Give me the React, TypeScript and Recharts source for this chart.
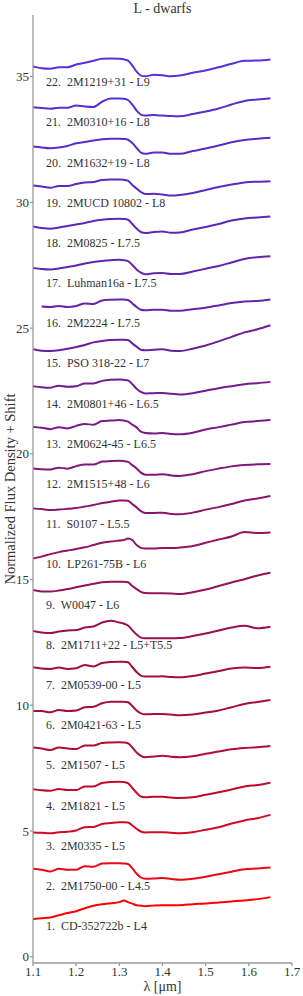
import { ComposedChart, Line, XAxis, YAxis, ReferenceDot } from "recharts";

// wavelength grid (micron), shared by every spectrum
const wavelengths = [1.10, 1.12, 1.14, 1.16, 1.18, 1.20, 1.22, 1.24, 1.26, 1.28, 1.30, 1.31, 1.32, 1.33, 1.34, 1.35, 1.36, 1.38, 1.40, 1.42, 1.44, 1.47, 1.50, 1.53, 1.56, 1.59, 1.62, 1.65];

// normalized flux + shift, one array per object (bottom to top)
const s1 = [1.50, 1.53, 1.56, 1.65, 1.74, 1.81, 1.93, 2.03, 2.09, 2.13, 2.17, 2.24, 2.17, 2.11, 2.05, 2.03, 2.01, 2.04, 2.05, 2.05, 2.05, 2.09, 2.12, 2.16, 2.20, 2.24, 2.29, 2.37];
const s2 = [3.50, 3.46, 3.39, 3.50, 3.46, 3.46, 3.60, 3.58, 3.71, 3.72, 3.72, 3.71, 3.69, 3.52, 3.30, 3.15, 3.10, 3.11, 3.13, 3.09, 3.06, 3.10, 3.18, 3.28, 3.38, 3.48, 3.51, 3.55];
const s3 = [4.94, 4.93, 4.91, 4.95, 4.97, 5.02, 5.15, 5.16, 5.28, 5.32, 5.35, 5.35, 5.34, 5.22, 5.09, 4.98, 4.94, 4.95, 4.95, 4.93, 4.91, 4.95, 5.05, 5.15, 5.30, 5.42, 5.51, 5.64];
const s4 = [6.66, 6.62, 6.60, 6.67, 6.63, 6.63, 6.77, 6.77, 6.91, 6.95, 6.96, 6.95, 6.90, 6.71, 6.52, 6.37, 6.34, 6.36, 6.36, 6.33, 6.31, 6.34, 6.44, 6.54, 6.65, 6.77, 6.83, 6.92];
const s5 = [8.32, 8.28, 8.22, 8.32, 8.28, 8.26, 8.40, 8.40, 8.50, 8.52, 8.53, 8.52, 8.49, 8.32, 8.12, 7.99, 7.93, 7.96, 7.99, 7.95, 7.93, 7.97, 8.07, 8.16, 8.25, 8.30, 8.33, 8.38];
const s6 = [9.77, 9.77, 9.72, 9.81, 9.77, 9.79, 9.92, 9.94, 10.08, 10.14, 10.14, 10.14, 10.12, 9.97, 9.79, 9.68, 9.64, 9.65, 9.65, 9.63, 9.60, 9.63, 9.71, 9.79, 9.92, 10.05, 10.13, 10.21];
const s7 = [11.51, 11.46, 11.44, 11.50, 11.44, 11.47, 11.60, 11.54, 11.68, 11.72, 11.73, 11.73, 11.71, 11.52, 11.32, 11.18, 11.14, 11.14, 11.15, 11.12, 11.11, 11.16, 11.26, 11.36, 11.46, 11.50, 11.48, 11.53];
const s8 = [12.95, 12.89, 12.87, 12.93, 12.97, 12.99, 13.09, 13.13, 13.29, 13.36, 13.29, 13.25, 13.17, 12.99, 12.81, 12.69, 12.66, 12.66, 12.66, 12.66, 12.67, 12.75, 12.85, 12.97, 13.09, 13.16, 13.06, 13.12];
const s9 = [14.58, 14.52, 14.52, 14.56, 14.62, 14.69, 14.76, 14.83, 14.89, 14.91, 14.91, 14.91, 14.89, 14.74, 14.62, 14.51, 14.46, 14.45, 14.45, 14.44, 14.42, 14.49, 14.60, 14.74, 14.88, 15.01, 15.16, 15.27];
const s10 = [15.84, 15.91, 16.01, 16.09, 16.15, 16.21, 16.28, 16.37, 16.46, 16.51, 16.55, 16.57, 16.63, 16.57, 16.37, 16.26, 16.23, 16.23, 16.25, 16.25, 16.27, 16.33, 16.46, 16.59, 16.71, 16.89, 16.85, 16.87];
const s11 = [17.83, 17.80, 17.76, 17.78, 17.81, 17.84, 17.90, 17.96, 18.04, 18.09, 18.14, 18.14, 18.13, 18.00, 17.87, 17.72, 17.65, 17.65, 17.66, 17.61, 17.60, 17.66, 17.78, 17.88, 18.00, 18.14, 18.22, 18.32];
const s12 = [19.42, 19.39, 19.38, 19.45, 19.41, 19.51, 19.57, 19.57, 19.69, 19.71, 19.72, 19.71, 19.68, 19.55, 19.42, 19.25, 19.17, 19.17, 19.19, 19.14, 19.12, 19.19, 19.31, 19.41, 19.50, 19.55, 19.58, 19.59];
const s13 = [21.07, 21.04, 20.98, 21.06, 21.01, 21.11, 21.18, 21.16, 21.30, 21.32, 21.34, 21.32, 21.28, 21.16, 21.05, 20.88, 20.83, 20.81, 20.83, 20.79, 20.78, 20.84, 20.97, 21.06, 21.16, 21.26, 21.30, 21.34];
const s14 = [22.69, 22.65, 22.63, 22.71, 22.67, 22.69, 22.80, 22.80, 22.90, 22.94, 22.95, 22.94, 22.92, 22.77, 22.59, 22.46, 22.40, 22.41, 22.42, 22.39, 22.36, 22.41, 22.51, 22.61, 22.69, 22.77, 22.81, 22.86];
const s15 = [24.16, 24.10, 24.09, 24.12, 24.18, 24.25, 24.33, 24.43, 24.49, 24.53, 24.54, 24.54, 24.53, 24.39, 24.26, 24.14, 24.12, 24.14, 24.16, 24.10, 24.09, 24.18, 24.31, 24.47, 24.65, 24.83, 24.95, 25.11];
const s16 = [null, 25.86, 25.84, 25.88, 25.84, 25.88, 25.98, 25.96, 26.10, 26.13, 26.14, 26.14, 26.12, 25.98, 25.84, 25.73, 25.71, 25.73, 25.73, 25.69, 25.69, 25.75, 25.81, 25.90, 26.00, 26.06, 26.08, 26.14];
const s17 = [27.39, 27.35, 27.33, 27.37, 27.43, 27.49, 27.57, 27.63, 27.67, 27.70, 27.72, 27.70, 27.66, 27.51, 27.33, 27.20, 27.14, 27.18, 27.19, 27.15, 27.15, 27.25, 27.36, 27.47, 27.61, 27.75, 27.82, 27.86];
const s18 = [29.04, 28.98, 28.95, 29.00, 29.06, 29.12, 29.18, 29.26, 29.31, 29.34, 29.35, 29.34, 29.31, 29.14, 28.96, 28.82, 28.78, 28.82, 28.84, 28.79, 28.80, 28.92, 29.02, 29.14, 29.28, 29.36, 29.40, 29.44];
const s19 = [30.67, 30.63, 30.58, 30.65, 30.65, 30.73, 30.79, 30.81, 30.89, 30.91, 30.91, 30.90, 30.86, 30.69, 30.55, 30.41, 30.33, 30.34, 30.31, 30.27, 30.29, 30.37, 30.49, 30.61, 30.71, 30.79, 30.82, 30.84];
const s20 = [32.22, 32.18, 32.15, 32.18, 32.24, 32.35, 32.40, 32.46, 32.51, 32.53, 32.53, 32.52, 32.49, 32.36, 32.16, 31.98, 31.93, 31.98, 31.98, 31.93, 31.93, 32.04, 32.14, 32.26, 32.39, 32.48, 32.53, 32.57];
const s21 = [33.78, 33.75, 33.72, 33.76, 33.76, 33.85, 33.81, 33.79, 34.00, 34.13, 34.13, 34.12, 34.07, 33.89, 33.65, 33.49, 33.45, 33.47, 33.45, 33.43, 33.42, 33.51, 33.61, 33.73, 33.89, 34.03, 34.09, 34.14];
const s22 = [35.40, 35.33, 35.31, 35.37, 35.37, 35.48, 35.55, 35.63, 35.71, 35.72, 35.71, 35.69, 35.64, 35.44, 35.20, 35.04, 35.01, 35.07, 35.05, 35.01, 35.04, 35.15, 35.24, 35.37, 35.51, 35.63, 35.64, 35.68];

const spectra = [s1, s2, s3, s4, s5, s6, s7, s8, s9, s10, s11, s12, s13, s14, s15, s16, s17, s18, s19, s20, s21, s22];

const names = [
  "CD-352722b - L4", "2M1750-00 - L4.5", "2M0335 - L5", "2M1821 - L5", "2M1507 - L5",
  "2M0421-63 - L5", "2M0539-00 - L5", "2M1711+22 - L5+T5.5", "W0047 - L6", "LP261-75B - L6",
  "S0107 - L5.5", "2M1515+48 - L6", "2M0624-45 - L6.5", "2M0801+46 - L6.5", "PSO 318-22 - L7",
  "2M2224 - L7.5", "Luhman16a - L7.5", "2M0825 - L7.5", "2MUCD 10802 - L8", "2M1632+19 - L8",
  "2M0310+16 - L8", "2M1219+31 - L9",
];

// where each name sits (y, data units)
const labelY = [1.23, 2.83, 4.43, 6.02, 7.62, 9.22, 10.82, 12.42, 14.01, 15.61, 17.21, 18.81, 20.41, 22.0, 23.6, 25.2, 26.8, 28.4, 29.99, 31.59, 33.19, 34.78];

const colors = [
  "#ff0000", "#e8081a", "#d00a22", "#c00a2a", "#b20c32", "#a80e3a", "#a00e44", "#9a104e",
  "#961258", "#901462", "#8a166c", "#821878", "#7a1a84", "#721c90", "#6a209c", "#6624a6",
  "#6226ae", "#5e28b6", "#5c2abe", "#5a2cc6", "#582ece", "#5632d8",
];

const xTicks = [1.1, 1.2, 1.3, 1.4, 1.5, 1.6, 1.7];
const yTicks = [0, 5, 10, 15, 20, 25, 30, 35];

const font = "Liberation Serif, DejaVu Serif, serif";
const frame = "#999999";

export default function App() {
  const data = wavelengths.map((lam, i) => {
    const row: Record<string, number | null> = { lam };
    spectra.forEach((s, k) => {
      row[`s${k + 1}`] = s[i];
    });
    return row;
  });

  return (
    <div style={{ position: "relative", width: 303, height: 996, background: "#fff", fontFamily: font }}>
      <style>{`body{margin:0} svg text{font-family:"Liberation Serif",serif}`}</style>
      <ComposedChart width={303} height={996} data={data} margin={{ top: 15, right: 11, bottom: 0, left: 0 }}>
        <XAxis
          dataKey="lam"
          type="number"
          domain={[1.1, 1.7]}
          ticks={xTicks}
          tickFormatter={(v: number) => v.toFixed(1)}
          allowDataOverflow
          height={33}
          tickSize={3}
          tickMargin={1}
          stroke={frame}
          strokeWidth={1.3}
          tick={{ fill: "#333", fontSize: 13 }}
        />
        <XAxis xAxisId="top" orientation="top" dataKey="lam" type="number" domain={[1.1, 1.7]} allowDataOverflow height={0} tick={false} tickLine={false} stroke={frame} strokeWidth={1.3} />
        <YAxis
          type="number"
          domain={[-0.25, 37.45]}
          ticks={yTicks}
          allowDataOverflow
          width={33}
          tickSize={3}
          tickMargin={1}
          stroke={frame}
          strokeWidth={1.3}
          tick={{ fill: "#333", fontSize: 13 }}
        />
        <YAxis yAxisId="right" orientation="right" type="number" domain={[-0.25, 37.45]} allowDataOverflow width={0} tick={false} tickLine={false} stroke={frame} strokeWidth={1.3} />
        {spectra.map((_, k) => (
          <Line
            key={k}
            type="monotone"
            dataKey={`s${k + 1}`}
            stroke={colors[k]}
            strokeWidth={2}
            dot={false}
            isAnimationActive={false}
          />
        ))}
        {names.map((n, i) => (
          <ReferenceDot
            key={n}
            x={1.13}
            y={labelY[i]}
            r={0}
            shape={(p: any) => (
              <text x={p.cx} y={p.cy} dy="0.35em" fontSize={12} fill="#333">
                {`${i + 1}.\u00a0 ${n}`}
              </text>
            )}
          />
        ))}
      </ComposedChart>
      <svg width={303} height={996} style={{ position: "absolute", left: 0, top: 0, pointerEvents: "none" }}>
        <text x={162.5} y={8} textAnchor="middle" dominantBaseline="central" fontSize={14} fill="#333">
          L - dwarfs
        </text>
        <text x={10} y={489} transform="rotate(-90 10 489)" textAnchor="middle" dominantBaseline="central" fontSize={14.5} fill="#333">
          Normalized Flux Density + Shift
        </text>
        <text x={162.5} y={986} textAnchor="middle" dominantBaseline="central" fontSize={14} fill="#333">
          λ [μm]
        </text>
      </svg>
    </div>
  );
}
